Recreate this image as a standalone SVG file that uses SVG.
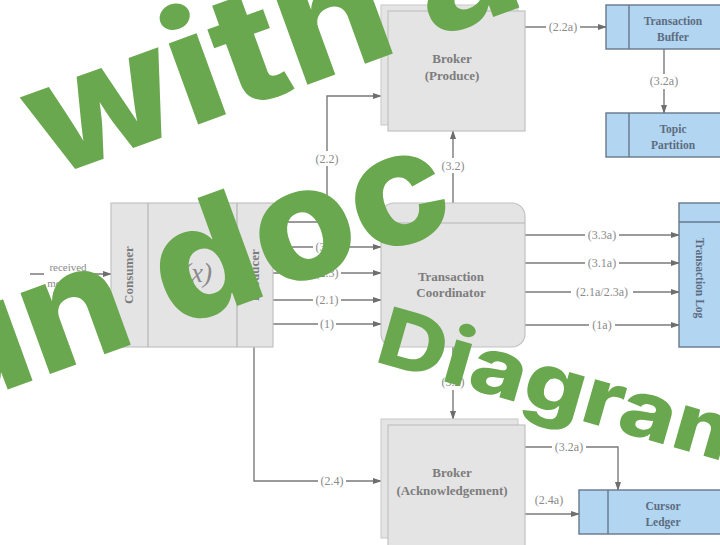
<svg xmlns="http://www.w3.org/2000/svg" width="720" height="545" viewBox="0 0 720 545">
  <style>
    .box { fill: #e4e4e4; stroke: #c2c2c2; stroke-width: 1.2; }
    .back { fill: #e4e4e4; stroke: #cfcfcf; stroke-width: 1.2; }
    .div { stroke: #b5b5b5; stroke-width: 1.2; fill: none; }
    .store { fill: #b2d5f1; stroke: #66778a; stroke-width: 1.4; }
    .storediv { stroke: #66778a; stroke-width: 1.4; fill: none; }
    .line { fill: none; stroke: #7a7a7a; stroke-width: 1.4; }
    .bg { fill: #ffffff; }
    .lbl { font-family: "Liberation Serif", serif; font-size: 12px; fill: #8a8a8a; text-anchor: middle; }
    .name { font-family: "Liberation Serif", serif; font-size: 13px; font-weight: bold; fill: #7c7c7c; text-anchor: middle; }
    .sname { font-family: "Liberation Serif", serif; font-size: 11.5px; font-weight: bold; fill: #5c6c80; text-anchor: middle; }
    .wm { font-family: Inter, "Open Sans", sans-serif; font-weight: 800; fill: #6aa84f; white-space: pre; }
  </style>
  <defs>
    <marker id="arrow" markerWidth="9" markerHeight="7" refX="8" refY="3.5" orient="auto" markerUnits="userSpaceOnUse">
      <path d="M0,0.5 L9,3.5 L0,6.5 Z" fill="#6e6e6e"/>
    </marker>
  </defs>

  <!-- connectors -->
  <g id="connectors">
    <path class="line" d="M30,274 H111" marker-end="url(#arrow)"/>
    <path class="line" d="M525,27 H606" marker-end="url(#arrow)"/>
    <path class="line" d="M664,49 V113" marker-end="url(#arrow)"/>
    <path class="line" d="M453,203 V131" marker-end="url(#arrow)"/>
    <path class="line" d="M273,222 H327 V96 H381" marker-end="url(#arrow)"/>
    <path class="line" d="M273,247 H381" marker-end="url(#arrow)"/>
    <path class="line" d="M273,273 H381" marker-end="url(#arrow)"/>
    <path class="line" d="M273,300 H381" marker-end="url(#arrow)"/>
    <path class="line" d="M273,324 H381" marker-end="url(#arrow)"/>
    <path class="line" d="M525,235 H679" marker-end="url(#arrow)"/>
    <path class="line" d="M525,263 H679" marker-end="url(#arrow)"/>
    <path class="line" d="M525,292 H679" marker-end="url(#arrow)"/>
    <path class="line" d="M525,325 H679" marker-end="url(#arrow)"/>
    <path class="line" d="M453,347 V419" marker-end="url(#arrow)"/>
    <path class="line" d="M525,447 H618 V490" marker-end="url(#arrow)"/>
    <path class="line" d="M525,514 H579" marker-end="url(#arrow)"/>
    <path class="line" d="M254,347 V481 H381" marker-end="url(#arrow)"/>

    <!-- label backgrounds and labels -->
    <rect class="bg" x="44" y="261" width="48" height="30"/>
    <text class="lbl" x="68" y="271" style="font-size:11px">received</text>
    <text class="lbl" x="68" y="287" style="font-size:11px">messages</text>

    <rect class="bg" x="546" y="20" width="34" height="14"/>
    <text class="lbl" x="563" y="31">(2.2a)</text>
    <rect class="bg" x="650" y="74" width="30" height="15"/>
    <text class="lbl" x="664" y="85">(3.2a)</text>
    <rect class="bg" x="438" y="158" width="30" height="15"/>
    <text class="lbl" x="453" y="170">(3.2)</text>
    <rect class="bg" x="313" y="151" width="28" height="15"/>
    <text class="lbl" x="327" y="163">(2.2)</text>

    <rect class="bg" x="313" y="240" width="28" height="14"/>
    <text class="lbl" x="327" y="251">(3.1)</text>
    <rect class="bg" x="313" y="266" width="28" height="14"/>
    <text class="lbl" x="327" y="277">(2.3)</text>
    <rect class="bg" x="313" y="293" width="28" height="14"/>
    <text class="lbl" x="327" y="304">(2.1)</text>
    <rect class="bg" x="318" y="317" width="18" height="14"/>
    <text class="lbl" x="327" y="328">(1)</text>

    <rect class="bg" x="585" y="228" width="34" height="14"/>
    <text class="lbl" x="602" y="239">(3.3a)</text>
    <rect class="bg" x="585" y="256" width="34" height="14"/>
    <text class="lbl" x="602" y="267">(3.1a)</text>
    <rect class="bg" x="571" y="285" width="62" height="14"/>
    <text class="lbl" x="602" y="296">(2.1a/2.3a)</text>
    <rect class="bg" x="589" y="318" width="26" height="14"/>
    <text class="lbl" x="602" y="329">(1a)</text>

    <rect class="bg" x="438" y="375" width="30" height="15"/>
    <text class="lbl" x="453" y="386">(3.2)</text>
    <rect class="bg" x="552" y="440" width="34" height="14"/>
    <text class="lbl" x="569" y="451">(3.2a)</text>
    <text class="lbl" x="549" y="504">(2.4a)</text>
    <rect class="bg" x="318" y="474" width="28" height="14"/>
    <text class="lbl" x="332" y="485">(2.4)</text>
  </g>

  <!-- application: consumer, processing, producer -->
  <g id="application">
    <rect class="box" x="111" y="203" width="162" height="144"/>
    <line class="div" x1="148" y1="203" x2="148" y2="347"/>
    <line class="div" x1="237" y1="203" x2="237" y2="347"/>
    <text class="name" transform="translate(133,275) rotate(-90)">Consumer</text>
    <text class="name" transform="translate(259,275) rotate(-90)">Producer</text>
    <text x="212" y="282" text-anchor="end" style="font-family:'Liberation Serif',serif;font-style:italic;font-size:27px;fill:#8a8a8a">f(x)</text>
  </g>

  <g id="broker-produce">
    <rect class="back" x="381" y="5" width="137" height="120"/>
    <rect class="box" x="388" y="11" width="137" height="120"/>
    <text class="name" x="452" y="63">Broker</text>
    <text class="name" x="452" y="80">(Produce)</text>
  </g>

  <g id="transaction-buffer">
    <rect class="store" x="606" y="5" width="120" height="44"/>
    <line class="storediv" x1="629" y1="5" x2="629" y2="49"/>
    <text class="sname" x="673" y="25">Transaction</text>
    <text class="sname" x="673" y="41">Buffer</text>
  </g>

  <g id="topic-partition">
    <rect class="store" x="606" y="113" width="120" height="44"/>
    <line class="storediv" x1="629" y1="113" x2="629" y2="157"/>
    <text class="sname" x="673" y="133">Topic</text>
    <text class="sname" x="673" y="149">Partition</text>
  </g>

  <g id="transaction-coordinator">
    <rect class="box" x="381" y="203" width="144" height="144" rx="13"/>
    <line class="div" x1="381" y1="223" x2="525" y2="223"/>
    <text class="name" x="451" y="281">Transaction</text>
    <text class="name" x="451" y="297">Coordinator</text>
  </g>

  <g id="transaction-log">
    <rect class="store" x="679" y="203" width="50" height="144"/>
    <line class="storediv" x1="679" y1="222" x2="729" y2="222"/>
    <text class="sname" transform="translate(696,278) rotate(90)">Transaction Log</text>
  </g>

  <g id="broker-ack">
    <rect class="back" x="381" y="419" width="137" height="119"/>
    <rect class="box" x="388" y="425" width="137" height="122"/>
    <text class="name" x="452" y="477">Broker</text>
    <text class="name" x="452" y="495">(Acknowledgement)</text>
  </g>

  <g id="cursor-ledger">
    <rect class="store" x="579" y="490" width="150" height="44"/>
    <line class="storediv" x1="608" y1="490" x2="608" y2="534"/>
    <text class="sname" x="663" y="510">Cursor</text>
    <text class="sname" x="663" y="526">Ledger</text>
  </g>

  <!-- overlay lettering -->
  <g id="overlay">
    <text class="wm" transform="translate(48,179) rotate(-20) scale(1.1,1)" font-size="158">with <tspan dx="-5">a</tspan></text>
    <text class="wm" transform="translate(-57,413) rotate(-20)" font-size="158" textLength="550" lengthAdjust="spacingAndGlyphs">un doc</text>
    <text class="wm" transform="translate(373,361) rotate(16)" font-size="80" textLength="396" lengthAdjust="spacingAndGlyphs">Diagram</text>
  </g>
</svg>
